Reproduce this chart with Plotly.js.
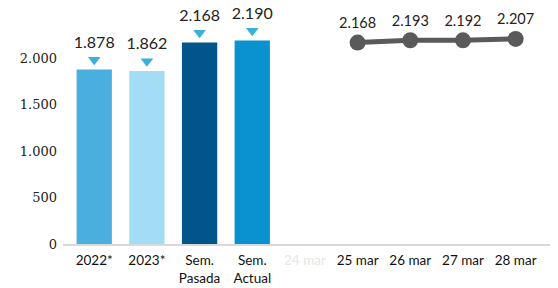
<!DOCTYPE html>
<html><head><meta charset="utf-8">
<script src="https://cdn.plot.ly/plotly-3.0.1.min.js"></script>
<style>html,body{margin:0;padding:0;background:#fff}#c{width:558px;height:288px}</style>
</head><body><div id="c"></div>
<script>
const categories = ["2022*", "2023*", "Sem.<br>Pasada", "Sem.<br>Actual", "24 mar", "25 mar", "26 mar", "27 mar", "28 mar"];
const barCategories = ["2022*", "2023*", "Sem.<br>Pasada", "Sem.<br>Actual"];
const barValues = [1878, 1862, 2168, 2190];
const barColors = ["#4AAEDE", "#A3DCF5", "#02558B", "#0A91CF"];
const dayCategories = ["25 mar", "26 mar", "27 mar", "28 mar"];
const dayValues = [2168, 2193, 2192, 2207];
const tickLabels = ["2022*", "2023*", "Sem.<br>Pasada", "Sem.<br>Actual", "<span style='color:#e6e6e6'>24 mar</span>", "25 mar", "26 mar", "27 mar", "28 mar"];
const yTicks = [0, 500, 1000, 1500, 2000];

const fmt = v => (v >= 1000 ? Math.floor(v/1000) + "." + String(v % 1000).padStart(3, "0") : String(v));
const markerOffset = 105;

const traces = [
  {type: "bar", x: barCategories, y: barValues, marker: {color: barColors}, hoverinfo: "none"},
  {type: "scatter", mode: "markers+text", x: barCategories, y: barValues.map(v => v + markerOffset),
   marker: {symbol: "triangle-down", size: 11, color: "#3AB0DA"},
   text: barValues.map(fmt), textposition: "top center",
   textfont: {family: "Lato", size: 16, color: "#222"}, cliponaxis: false, hoverinfo: "none"},
  {type: "scatter", mode: "lines+markers+text", x: dayCategories, y: dayValues,
   line: {color: "#5a5a5a", width: 5}, marker: {size: 16, color: "#5a5a5a"},
   text: dayValues.map(fmt), textposition: "top center",
   textfont: {family: "Lato", size: 14.5, color: "#222"}, cliponaxis: false, hoverinfo: "none"}
];

const layout = {
  width: 558, height: 288,
  margin: {l: 63, r: 8, t: 21, b: 44},
  paper_bgcolor: "#fff", plot_bgcolor: "#fff",
  showlegend: false, bargap: 0.33,
  font: {family: "Lato"},
  xaxis: {type: "category", categoryorder: "array", categoryarray: categories,
    tickvals: categories, ticktext: tickLabels, ticklabelstandoff: 3,
    showline: true, linecolor: "#d9d9d9", linewidth: 2, ticks: "", showgrid: false,
    tickfont: {family: "Lato", size: 13.5, color: "#111"}},
  yaxis: {range: [0, 2400], tickvals: yTicks, ticktext: yTicks.map(fmt), showgrid: false,
    zeroline: false, showline: false, ticks: "", ticklabelstandoff: 5,
    tickfont: {family: "DejaVu Serif", size: 13, color: "#222"}}
};
Plotly.newPlot("c", traces, layout, {staticPlot: true, displayModeBar: false});
</script></body></html>
